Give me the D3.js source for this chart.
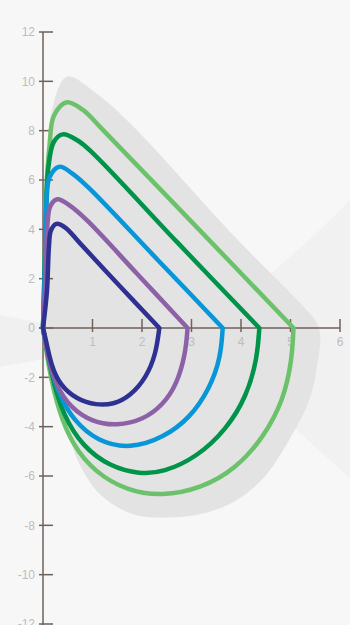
<!DOCTYPE html>
<html lang="en">
<head>
    <meta charset="utf-8">
    <title>Nested loops</title>
    <script src="https://d3js.org/d3.v7.min.js"></script>
    <style>
        body { margin: 0; background: #f7f7f7; }
        svg { display: block; }
        .tick-label { font-family: "Liberation Sans", Arial, sans-serif; font-size: 12px; fill: #bdbdbd; }
        .loop { fill: none; stroke-width: 4.5px; stroke-linejoin: round; stroke-linecap: round; }
    </style>
</head>
<body>
<script type="text/javascript">

    var w = 350;
    var h = 625;

    // tick values
    var xTicks = [1, 2, 3, 4, 5, 6];
    var yTicks = [-12, -10, -8, -6, -4, -2, 0, 2, 4, 6, 8, 10, 12];

    // series names and colours (drawn from outer to inner)
    var seriesNames = ["lightGreen", "darkGreen", "blue", "purple", "navy"];
    var seriesColors = ["#6cc26b", "#00934a", "#0796d8", "#8c61a8", "#2e3192"];

    // each loop: upper half (origin -> peak -> right vertex) and lower half (vertex -> bottom -> origin)
    var lightGreenUpper = [[0, 0], [0.04, 3], [0.07, 5.7], [0.13, 7.35], [0.22, 8.6], [0.48, 9.15], [0.8, 8.85], [1.2, 8.05], [3.1, 4.1], [5.06, 0]];
    var lightGreenLower = [[5.06, 0], [5.03, -1.3], [4.86, -2.92], [4.45, -4.45], [3.9, -5.7], [3.2, -6.5], [2.4, -6.82], [1.7, -6.6], [1.05, -5.85], [0.6, -4.75], [0.32, -3.4], [0.12, -1.7], [0, 0]];

    var darkGreenUpper = [[0, 0], [0.04, 3], [0.07, 5.2], [0.11, 6.54], [0.22, 7.55], [0.4, 7.85], [0.7, 7.6], [1.0, 7.1], [2.7, 3.5], [4.37, 0]];
    var darkGreenLower = [[4.37, 0], [4.33, -1.2], [4.12, -2.75], [3.71, -4.1], [3.1, -5.25], [2.43, -5.85], [1.96, -5.93], [1.35, -5.62], [0.8, -4.8], [0.41, -3.55], [0.17, -1.95], [0, 0]];

    var blueUpper = [[0, 0], [0.04, 2.5], [0.07, 5.0], [0.13, 6.1], [0.33, 6.54], [0.6, 6.25], [0.9, 5.73], [2.3, 2.8], [3.63, 0]];
    var blueLower = [[3.63, 0], [3.59, -1.2], [3.37, -2.45], [2.97, -3.65], [2.43, -4.45], [1.76, -4.9], [1.1, -4.6], [0.62, -3.75], [0.33, -2.75], [0.13, -1.45], [0, 0]];

    var purpleUpper = [[0, 0], [0.05, 2], [0.09, 4.2], [0.15, 4.95], [0.29, 5.22], [0.55, 4.95], [0.88, 4.38], [1.9, 2.2], [2.92, 0]];
    var purpleLower = [[2.92, 0], [2.88, -1.05], [2.7, -2.3], [2.43, -3.1], [2.03, -3.72], [1.49, -3.97], [1.0, -3.82], [0.55, -3.22], [0.27, -2.35], [0.12, -1.4], [0, 0]];

    var navyUpper = [[0, 0], [0.08, 1.5], [0.12, 3.3], [0.16, 3.95], [0.27, 4.22], [0.45, 4.07], [0.75, 3.43], [1.55, 1.7], [2.35, 0]];
    var navyLower = [[2.35, 0], [2.28, -1.05], [2.09, -2.0], [1.76, -2.77], [1.42, -3.1], [1.08, -3.13], [0.68, -2.9], [0.34, -2.3], [0.17, -1.55], [0.06, -0.5], [0, 0]];

    // grey envelope behind the loops
    var envelope = [[0, 0], [0.03, 4], [0.08, 7], [0.18, 8.84], [0.48, 10.19], [1.08, 9.51], [1.76, 8.3], [3.85, 3.75],
        [5.19, 1.02], [5.5, 0.3], [5.6, -0.3], [5.56, -1.24], [5.39, -2.86], [4.99, -4.48], [4.45, -6.09], [3.84, -7.06],
        [3.17, -7.55], [2.5, -7.68], [1.82, -7.55], [1.15, -6.74], [0.68, -5.28], [0.48, -3.83], [0.21, -2.05], [0.04, -0.44]];

    var loops = [
        [lightGreenUpper, lightGreenLower],
        [darkGreenUpper, darkGreenLower],
        [blueUpper, blueLower],
        [purpleUpper, purpleLower],
        [navyUpper, navyLower]
    ];

    var svg = d3.select("body")
            .append("svg")
            .attr("width", w)
            .attr("height", h);

    // scales
    var x = d3.scaleLinear().domain([0, 6]).range([43, 340]);
    var y = d3.scaleLinear().domain([-12, 12]).range([624, 32]);

    // faint background wedges
    svg.append("path")
            .attr("d", "M0,315 L140,341 L0,367 Z")
            .attr("fill", "#f0f0f0");
    svg.append("path")
            .attr("d", "M200,330 Q290,262 350,200 L350,478 Q260,400 200,330 Z")
            .attr("fill", "#f1f1f1");

    // envelope
    svg.append("path")
            .datum(envelope)
            .attr("fill", "#e3e3e3")
            .attr("d", d3.line()
                    .x(function (d) { return x(d[0]); })
                    .y(function (d) { return y(d[1]); })
                    .curve(d3.curveCatmullRomClosed));

    // axes
    var axisColor = "#6e625b";
    var axes = svg.append("g");

    axes.append("line")
            .attr("x1", x(0)).attr("x2", x(0))
            .attr("y1", y(12)).attr("y2", h)
            .attr("stroke", axisColor).attr("stroke-width", 1.5);
    axes.append("line")
            .attr("x1", x(0) - 4).attr("x2", x(6))
            .attr("y1", y(0)).attr("y2", y(0))
            .attr("stroke", axisColor).attr("stroke-width", 1.5);

    axes.selectAll(".ytick")
            .data(yTicks)
            .enter()
            .append("line")
            .attr("x1", x(0) - 4).attr("x2", x(0) + 10)
            .attr("y1", function (d) { return y(d); })
            .attr("y2", function (d) { return y(d); })
            .attr("stroke", axisColor).attr("stroke-width", 1.5);

    axes.selectAll(".ylabel")
            .data(yTicks)
            .enter()
            .append("text")
            .attr("class", "tick-label")
            .attr("x", x(0) - 8)
            .attr("y", function (d) { return y(d); })
            .attr("dy", "0.35em")
            .attr("text-anchor", "end")
            .text(function (d) { return d; });

    axes.selectAll(".xtick")
            .data(xTicks)
            .enter()
            .append("line")
            .attr("x1", function (d) { return x(d); })
            .attr("x2", function (d) { return x(d); })
            .attr("y1", y(0) - 9).attr("y2", y(0) + 4)
            .attr("stroke", axisColor).attr("stroke-width", 1.5);

    axes.selectAll(".xlabel")
            .data(xTicks)
            .enter()
            .append("text")
            .attr("class", "tick-label")
            .attr("x", function (d) { return x(d); })
            .attr("y", y(0) + 18)
            .attr("text-anchor", "middle")
            .text(function (d) { return d; });

    // loops, outer first so the inner ones sit on top
    var upperLine = d3.line()
            .x(function (d) { return x(d[0]); })
            .y(function (d) { return y(d[1]); })
            .curve(d3.curveCatmullRom.alpha(0.5));

    var lowerLine = d3.line()
            .x(function (d) { return x(d[0]); })
            .y(function (d) { return y(d[1]); })
            .curve(d3.curveBasis);

    svg.selectAll(".loop")
            .data(loops)
            .enter()
            .append("path")
            .attr("class", "loop")
            .attr("stroke", function (d, i) { return seriesColors[i]; })
            .attr("data-name", function (d, i) { return seriesNames[i]; })
            .attr("d", function (d) {
                // join the two halves into one path so the right vertex stays sharp
                return upperLine(d[0]) + lowerLine(d[1]).replace(/^M/, "L");
            });

</script>
</body>
</html>
